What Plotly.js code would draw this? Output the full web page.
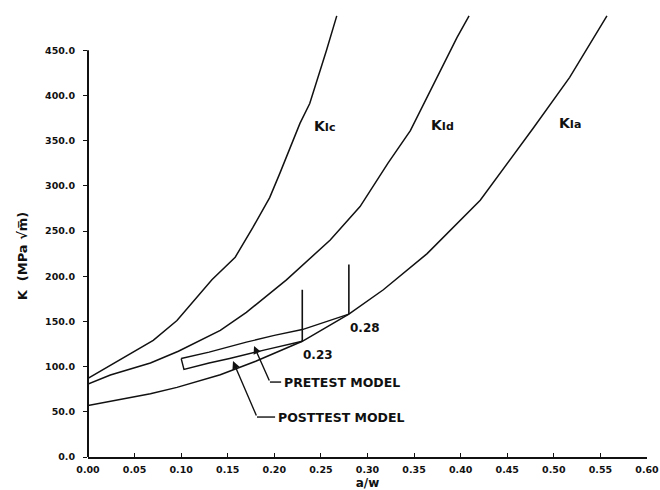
<!DOCTYPE html>
<html>
<head>
<meta charset="utf-8">
<script src="https://cdn.plot.ly/plotly-3.0.1.min.js"></script>
<style>
  html, body { margin: 0; padding: 0; background: #fff; }
  #chart { width: 660px; height: 490px; }
</style>
</head>
<body>
<div id="chart"></div>
<script>
// Toughness curves K vs crack depth a/w
const aKIc = [0.000, 0.070, 0.0955, 0.133, 0.158, 0.177, 0.195, 0.206, 0.2275, 0.238, 0.256, 0.267];
const kIc  = [87, 129, 151, 196, 221, 254, 287, 314, 369, 391, 450, 488];

const aKId = [0.000, 0.024, 0.067, 0.097, 0.142, 0.170, 0.213, 0.260, 0.292, 0.322, 0.346, 0.364, 0.378, 0.396, 0.409];
const kId  = [80.7, 90.7, 104, 117, 140, 160, 196, 240, 277, 325, 361, 398, 428, 464, 488];

const aKIa = [0.000, 0.067, 0.0955, 0.142, 0.180, 0.230, 0.280, 0.317, 0.364, 0.421, 0.478, 0.517, 0.557];
const kIa  = [57, 70, 77, 91, 106, 128, 158, 185, 225, 284, 364, 420, 488];

// Crack-run paths from a/w = 0.10 to arrest on the KIa curve
const aUpperPath = [0.100, 0.130, 0.170, 0.200, 0.230, 0.280];
const kUpperPath = [109, 116, 127, 134.5, 141, 158];
const aLowerPath = [0.100, 0.103, 0.130, 0.152, 0.190, 0.230];
const kLowerPath = [109, 97, 104, 109, 118.5, 128];

// Arrest depths and the top of each arrest marker
const arrestA = [0.23, 0.28];
const arrestTopK = [185, 213];

const curveLabels = ['K<span style="font-size:11px">Ic</span>', 'K<span style="font-size:11px">Id</span>', 'K<span style="font-size:11px">Ia</span>'];
const curveLabelA = [0.254, 0.381, 0.517];
const curveLabelK = [366, 367, 369];

const xTicks = [0, 0.05, 0.10, 0.15, 0.20, 0.25, 0.30, 0.35, 0.40, 0.45, 0.50, 0.55, 0.60];
const xTickLabels = ['0.00', '0.05', '0.10', '0.15', '0.20', '0.25', '0.30', '0.35', '0.40', '0.45', '0.50', '0.55', '0.60'];
const yTicks = [0, 50, 100, 150, 200, 250, 300, 350, 400, 450];
const yTickLabels = ['0.0', '50.0', '100.0', '150.0', '200.0', '250.0', '300.0', '350.0', '400.0', '450.0'];

// Model leaders: label position, elbow and arrow tip (a/w, K)
const modelNames = ['PRETEST MODEL', 'POSTTEST MODEL'];
const modelLabelA = [0.2093, 0.2028];
const modelLabelK = [82.9, 44.2];
const modelElbowA = [0.1953, 0.1814];
const modelTipA = [0.1782, 0.1556];
const modelTipK = [122.7, 106.1];

const INK = '#111';
const FONT = 'DejaVu Sans';
const line = {color: INK, width: 1.5};

function kiaAt(a) {
  return kIa[aKIa.indexOf(a)];
}

const traces = [
  {x: aKIc, y: kIc, mode: 'lines', line: line, name: 'KIc'},
  {x: aKId, y: kId, mode: 'lines', line: line, name: 'KId'},
  {x: aKIa, y: kIa, mode: 'lines', line: line, name: 'KIa'},
  {x: aUpperPath, y: kUpperPath, mode: 'lines', line: {color: INK, width: 1.4}, name: 'upper path'},
  {x: aLowerPath, y: kLowerPath, mode: 'lines', line: {color: INK, width: 1.4}, name: 'lower path'}
];
arrestA.forEach((a, i) => {
  traces.push({x: [a, a], y: [kiaAt(a), arrestTopK[i]], mode: 'lines', line: {color: INK, width: 1.6}, name: 'arrest ' + a});
});

const annotations = [];
curveLabels.forEach((t, i) => {
  annotations.push({x: curveLabelA[i], y: curveLabelK[i], xref: 'x', yref: 'y', text: t, showarrow: false,
    font: {family: FONT, size: 14, weight: 'bold', color: INK}, xanchor: 'center', yanchor: 'middle'});
});
arrestA.forEach((a) => {
  annotations.push({x: a, y: kiaAt(a), xref: 'x', yref: 'y', text: a.toFixed(2), showarrow: false,
    xshift: 16, yshift: -14,
    font: {family: FONT, size: 12, weight: 'bold', color: INK}, xanchor: 'center', yanchor: 'middle'});
});
const shapes = [
  // left axis line, drawn only over the ticked range
  {type: 'line', xref: 'paper', yref: 'y', x0: 0, x1: 0, y0: 0, y1: 450, line: {color: INK, width: 2}}
];
modelNames.forEach((name, i) => {
  annotations.push({x: modelLabelA[i], y: modelLabelK[i], xref: 'x', yref: 'y', text: name, showarrow: false,
    font: {family: FONT, size: 12.5, weight: 'bold', color: INK}, xanchor: 'left', yanchor: 'middle', borderpad: 0});
  annotations.push({x: modelTipA[i], y: modelTipK[i], xref: 'x', yref: 'y', text: '',
    showarrow: true, axref: 'x', ayref: 'y', ax: modelElbowA[i], ay: modelLabelK[i],
    arrowhead: 2, arrowsize: 1.1, arrowwidth: 1.4, arrowcolor: INK, standoff: 0, startstandoff: 0});
  shapes.push({type: 'line', xref: 'x', yref: 'y', x0: modelElbowA[i], x1: modelLabelA[i] - 0.002,
    y0: modelLabelK[i], y1: modelLabelK[i], line: {color: INK, width: 1.4}});
});
annotations.push({xref: 'paper', yref: 'y', x: -0.118, y: 222, text: 'K  (MPa √m\u0305)', textangle: -90,
  showarrow: false, font: {family: FONT, size: 13, weight: 'bold', color: INK}, xanchor: 'center', yanchor: 'middle'});

const layout = {
  width: 660, height: 490,
  margin: {l: 88, r: 13, t: 5, b: 33},
  paper_bgcolor: '#fff', plot_bgcolor: '#fff',
  showlegend: false,
  font: {family: FONT, color: INK},
  xaxis: {
    range: [0, 0.6], tickvals: xTicks, ticktext: xTickLabels,
    showline: true, linecolor: INK, linewidth: 1.5,
    ticks: 'inside', ticklen: 4, tickwidth: 1, tickcolor: INK,
    showgrid: false, zeroline: false, ticklabelstandoff: 3,
    tickfont: {family: FONT, size: 9.5, weight: 'bold', color: INK},
    title: {text: 'a/w', font: {family: FONT, size: 12, weight: 'bold', color: INK}, standoff: 10}
  },
  yaxis: {
    range: [0, 500], tickvals: yTicks, ticktext: yTickLabels,
    showline: false, ticks: 'outside', ticklen: 4, tickwidth: 1, tickcolor: INK,
    showgrid: false, zeroline: false, ticklabelstandoff: 6,
    tickfont: {family: FONT, size: 9.5, weight: 'bold', color: INK}
  },
  annotations: annotations,
  shapes: shapes
};

Plotly.newPlot('chart', traces, layout, {displayModeBar: false, staticPlot: true});
</script>
</body>
</html>
